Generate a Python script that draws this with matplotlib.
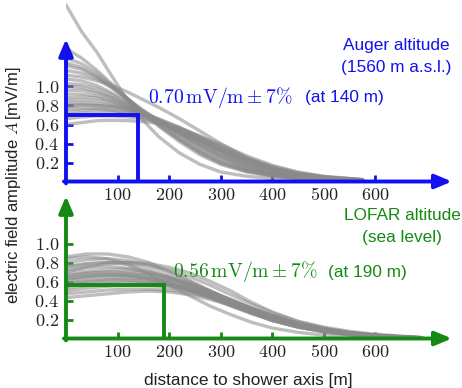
import matplotlib
matplotlib.use('Agg')
import matplotlib.pyplot as plt

plt.rcParams['mathtext.fontset'] = 'cm'
plt.rcParams['font.family'] = ['Liberation Sans', 'DejaVu Sans']

# ---------------- data ----------------
top_x = [0, 30, 60, 90, 120, 150, 180, 220, 260, 300, 350, 400, 450, 500, 575]
top_curves = [
    [1.86, 1.58, 1.36, 1.10, 0.85, 0.64, 0.47, 0.30, 0.18, 0.10, 0.055, 0.03, 0.02, 0.01, 0.005],
    [1.40, 1.30, 1.17, 1.02, 0.87, 0.72, 0.58, 0.42, 0.28, 0.18, 0.10, 0.055, 0.03, 0.015, 0.005],
    [1.30, 1.24, 1.14, 1.01, 0.87, 0.73, 0.60, 0.44, 0.30, 0.19, 0.11, 0.06, 0.035, 0.02, 0.008],
    [1.25, 1.20, 1.11, 0.99, 0.86, 0.72, 0.59, 0.44, 0.31, 0.20, 0.11, 0.06, 0.035, 0.02, 0.008],
    [1.22, 1.18, 1.10, 0.99, 0.86, 0.73, 0.61, 0.46, 0.32, 0.21, 0.12, 0.07, 0.04, 0.02, 0.008],
    [1.17, 1.14, 1.08, 0.98, 0.87, 0.75, 0.63, 0.48, 0.34, 0.23, 0.13, 0.075, 0.04, 0.02, 0.008],
    [1.12, 1.10, 1.06, 1.01, 0.94, 0.86, 0.78, 0.66, 0.53, 0.40, 0.25, 0.14, 0.075, 0.04, 0.015],
    [1.08, 1.06, 1.01, 0.93, 0.84, 0.74, 0.64, 0.50, 0.36, 0.25, 0.14, 0.08, 0.045, 0.025, 0.01],
    [1.03, 1.02, 0.98, 0.91, 0.83, 0.74, 0.64, 0.51, 0.38, 0.26, 0.15, 0.085, 0.05, 0.025, 0.01],
    [1.00, 0.99, 0.95, 0.88, 0.80, 0.71, 0.62, 0.50, 0.38, 0.27, 0.16, 0.09, 0.05, 0.03, 0.01],
    [0.96, 0.96, 0.93, 0.88, 0.81, 0.73, 0.64, 0.52, 0.40, 0.29, 0.17, 0.10, 0.055, 0.03, 0.012],
    [0.92, 0.92, 0.90, 0.85, 0.79, 0.71, 0.63, 0.52, 0.40, 0.29, 0.18, 0.10, 0.06, 0.03, 0.012],
    [0.88, 0.89, 0.88, 0.84, 0.78, 0.72, 0.65, 0.54, 0.42, 0.31, 0.19, 0.11, 0.065, 0.035, 0.014],
    [0.85, 0.86, 0.85, 0.82, 0.77, 0.71, 0.64, 0.54, 0.43, 0.32, 0.20, 0.12, 0.07, 0.035, 0.014],
    [0.82, 0.83, 0.82, 0.80, 0.76, 0.70, 0.64, 0.54, 0.43, 0.33, 0.21, 0.125, 0.07, 0.04, 0.015],
    [0.80, 0.81, 0.80, 0.78, 0.75, 0.70, 0.64, 0.55, 0.44, 0.33, 0.21, 0.13, 0.075, 0.04, 0.015],
    [0.78, 0.80, 0.80, 0.79, 0.76, 0.72, 0.66, 0.57, 0.46, 0.35, 0.23, 0.14, 0.08, 0.045, 0.016],
    [0.76, 0.77, 0.77, 0.75, 0.72, 0.68, 0.62, 0.53, 0.43, 0.33, 0.22, 0.13, 0.075, 0.04, 0.015],
    [0.73, 0.75, 0.76, 0.75, 0.73, 0.70, 0.65, 0.57, 0.47, 0.37, 0.25, 0.15, 0.09, 0.05, 0.018],
    [0.70, 0.72, 0.73, 0.72, 0.70, 0.67, 0.63, 0.55, 0.45, 0.35, 0.23, 0.14, 0.08, 0.045, 0.02],
    [0.66, 0.68, 0.69, 0.69, 0.68, 0.66, 0.62, 0.56, 0.47, 0.37, 0.25, 0.16, 0.09, 0.05, 0.02],
    [0.60, 0.62, 0.64, 0.645, 0.64, 0.63, 0.61, 0.56, 0.48, 0.39, 0.27, 0.17, 0.10, 0.055, 0.02],
]

bottom_x = [0, 40, 80, 120, 160, 200, 240, 280, 320, 360, 400, 450, 500, 550, 600, 650, 690]
bottom_curves = [
    [0.86, 0.89, 0.89, 0.86, 0.80, 0.71, 0.61, 0.50, 0.39, 0.29, 0.21, 0.13, 0.08, 0.045, 0.025, 0.012, 0.005],
    [0.84, 0.86, 0.84, 0.78, 0.68, 0.56, 0.45, 0.34, 0.25, 0.17, 0.11, 0.065, 0.035, 0.02, 0.01, 0.005, 0.002],
    [0.80, 0.83, 0.84, 0.82, 0.77, 0.69, 0.60, 0.50, 0.40, 0.30, 0.22, 0.14, 0.085, 0.05, 0.028, 0.014, 0.006],
    [0.76, 0.79, 0.80, 0.78, 0.73, 0.65, 0.56, 0.46, 0.36, 0.27, 0.19, 0.12, 0.07, 0.04, 0.022, 0.011, 0.005],
    [0.75, 0.78, 0.80, 0.80, 0.77, 0.72, 0.65, 0.56, 0.46, 0.36, 0.27, 0.18, 0.11, 0.065, 0.036, 0.018, 0.008],
    [0.72, 0.75, 0.76, 0.74, 0.70, 0.63, 0.55, 0.46, 0.37, 0.28, 0.20, 0.13, 0.08, 0.045, 0.025, 0.012, 0.005],
    [0.70, 0.75, 0.79, 0.80, 0.79, 0.75, 0.69, 0.60, 0.50, 0.38, 0.28, 0.18, 0.12, 0.075, 0.045, 0.025, 0.01],
    [0.68, 0.71, 0.73, 0.73, 0.70, 0.65, 0.58, 0.49, 0.40, 0.31, 0.23, 0.15, 0.09, 0.055, 0.03, 0.015, 0.006],
    [0.66, 0.69, 0.70, 0.69, 0.66, 0.60, 0.53, 0.44, 0.35, 0.27, 0.19, 0.12, 0.075, 0.04, 0.022, 0.011, 0.005],
    [0.65, 0.68, 0.70, 0.70, 0.68, 0.64, 0.58, 0.50, 0.41, 0.32, 0.24, 0.16, 0.10, 0.06, 0.033, 0.017, 0.007],
    [0.63, 0.66, 0.67, 0.66, 0.63, 0.58, 0.51, 0.43, 0.35, 0.27, 0.19, 0.12, 0.075, 0.043, 0.024, 0.012, 0.005],
    [0.62, 0.65, 0.67, 0.67, 0.66, 0.62, 0.57, 0.49, 0.41, 0.32, 0.24, 0.16, 0.10, 0.06, 0.034, 0.018, 0.008],
    [0.60, 0.64, 0.66, 0.66, 0.63, 0.58, 0.51, 0.43, 0.34, 0.26, 0.19, 0.12, 0.07, 0.04, 0.02, 0.01, 0.005],
    [0.58, 0.61, 0.63, 0.64, 0.63, 0.60, 0.55, 0.48, 0.40, 0.32, 0.24, 0.16, 0.10, 0.06, 0.035, 0.02, 0.009],
    [0.57, 0.60, 0.62, 0.62, 0.60, 0.56, 0.50, 0.43, 0.35, 0.27, 0.20, 0.13, 0.08, 0.045, 0.025, 0.013, 0.006],
    [0.55, 0.58, 0.60, 0.61, 0.60, 0.57, 0.53, 0.46, 0.39, 0.31, 0.23, 0.15, 0.095, 0.055, 0.03, 0.016, 0.007],
    [0.53, 0.56, 0.58, 0.59, 0.58, 0.56, 0.52, 0.46, 0.39, 0.31, 0.24, 0.16, 0.10, 0.06, 0.035, 0.018, 0.008],
    [0.50, 0.53, 0.55, 0.56, 0.56, 0.54, 0.50, 0.45, 0.38, 0.31, 0.24, 0.16, 0.10, 0.06, 0.035, 0.02, 0.009],
    [0.47, 0.49, 0.51, 0.52, 0.52, 0.51, 0.48, 0.43, 0.37, 0.30, 0.23, 0.15, 0.095, 0.055, 0.03, 0.016, 0.007],
    [0.43, 0.45, 0.47, 0.49, 0.50, 0.49, 0.46, 0.41, 0.35, 0.28, 0.21, 0.14, 0.09, 0.055, 0.03, 0.015, 0.006],
]

x_ticks = [100, 200, 300, 400, 500, 600]
y_ticks = [0.2, 0.4, 0.6, 0.8, 1.0]

top_ref_distance = 140
top_ref_value = 0.70
bottom_ref_distance = 190
bottom_ref_value = 0.56

top_title = ["Auger altitude", "(1560 m a.s.l.)"]
bottom_title = ["LOFAR altitude", "(sea level)"]
top_value_text = r'$0.70\,\mathrm{mV/m} \pm 7\%$'
bottom_value_text = r'$0.56\,\mathrm{mV/m} \pm 7\%$'
top_at_text = "(at 140 m)"
bottom_at_text = "(at 190 m)"

# ---------------- style ----------------
BLUE = '#1010f0'
GREEN = '#148a14'
GRAY = '#8a8a8a'
TXT = 11.0 * 1.13
W, H = 462, 388
X_MAX = 760
X_ARROW = 748
Y_ARROW = 1.5

fig = plt.figure(figsize=(W / 100, H / 100), dpi=100)
ax1 = fig.add_axes([66 / W, 1 - 181.5 / H, 392 / W, 181.5 / H])
ax2 = fig.add_axes([66 / W, (H - 338.5) / H, 392 / W, 148.5 / H])
ax1.set_ylim(0, 181.5 / 95)
ax2.set_ylim(0, 148.5 / 95)


def setup(ax, curves_x, curves, color, ref_d, ref_v):
    ax.set_xlim(0, X_MAX)
    ax.patch.set_alpha(0)
    for s in ax.spines.values():
        s.set_visible(False)
    for c in curves:
        ax.plot(curves_x, c, color=GRAY, alpha=0.55, lw=2.4,
                solid_capstyle='round', solid_joinstyle='round', zorder=2)
    ax.plot([0, ref_d, ref_d], [ref_v, ref_v, 0], color=color, lw=2.8,
            solid_joinstyle='miter', zorder=4)
    arrow = dict(arrowstyle='-|>,head_length=1.0,head_width=0.42', color=color,
                 lw=2.8, shrinkA=0, shrinkB=0, mutation_scale=10)
    ax.annotate('', xy=(X_ARROW, 0), xytext=(-4, 0), arrowprops=arrow,
                annotation_clip=False, zorder=5)
    ax.annotate('', xy=(0, Y_ARROW), xytext=(0, -0.02), arrowprops=arrow,
                annotation_clip=False, zorder=5)
    ax.set_xticks(x_ticks)
    ax.set_xticklabels([r'$%d$' % v for v in x_ticks])
    ax.set_yticks(y_ticks)
    ax.set_yticklabels([r'$%.1f$' % v for v in y_ticks])
    ax.tick_params(axis='both', direction='in', length=5, width=2, color=color,
                   labelsize=13, labelcolor='#222222')
    ax.tick_params(axis='x', pad=4)
    ax.tick_params(axis='y', pad=5)


setup(ax1, top_x, top_curves, BLUE, top_ref_distance, top_ref_value)
setup(ax2, bottom_x, bottom_curves, GREEN, bottom_ref_distance, bottom_ref_value)

# annotations (top)
ax1.text(159, 0.88, top_value_text, color=BLUE, fontsize=14.2, va='center', ha='left')
ax1.text(463, 0.88, top_at_text, color=BLUE, fontsize=TXT, va='center', ha='left')
ax1.text(640, 1.436, top_title[0], color=BLUE, fontsize=TXT, va='center', ha='center')
ax1.text(640, 1.205, top_title[1], color=BLUE, fontsize=TXT, va='center', ha='center')

# annotations (bottom)
ax2.text(207, 0.70, bottom_value_text, color=GREEN, fontsize=14.2, va='center', ha='left')
ax2.text(508, 0.70, bottom_at_text, color=GREEN, fontsize=TXT, va='center', ha='left')
ax2.text(652, 1.30, bottom_title[0], color=GREEN, fontsize=TXT, va='center', ha='center')
ax2.text(652, 1.058, bottom_title[1], color=GREEN, fontsize=TXT, va='center', ha='center')

fig.text(14 / W, 1 - 185 / H, r'electric field amplitude $A\,$[mV/m]', rotation=90,
         ha='center', va='center', fontsize=12.0, color='#222222')
fig.text(248 / W, 1 - 380 / H, 'distance to shower axis [m]', ha='center', va='center',
         fontsize=TXT, color='#222222')

fig.savefig('out.png', dpi=100, facecolor='white')
